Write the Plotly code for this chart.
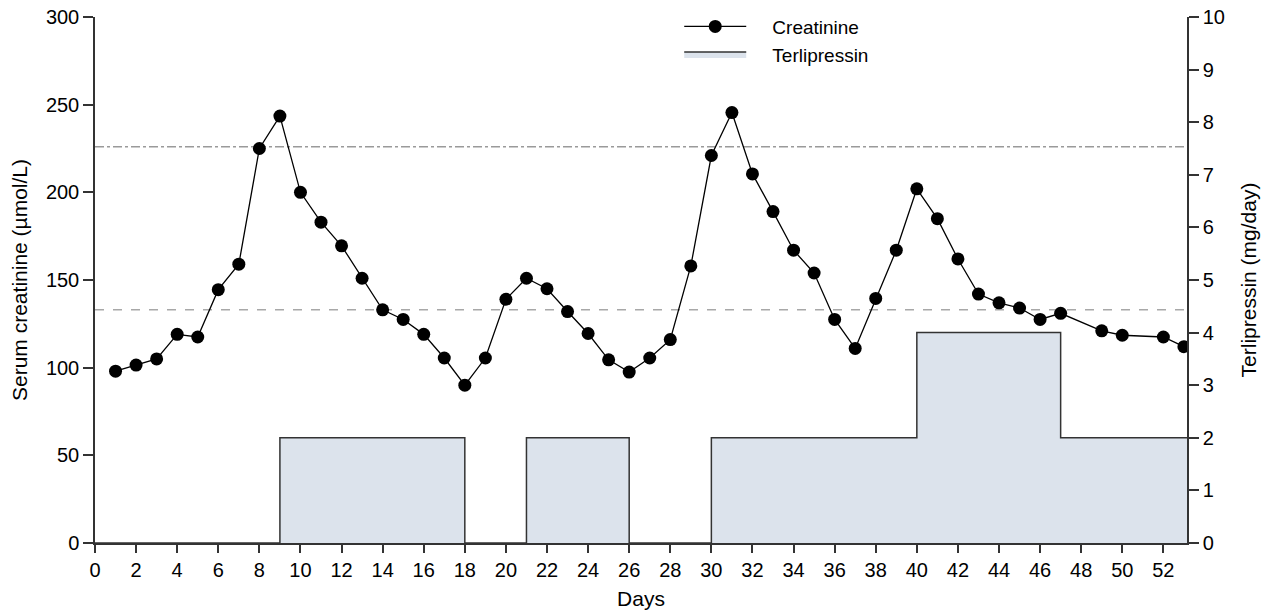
import plotly.graph_objects as go

# Serum creatinine by day (µmol/L); days 48 and 51 have no measurement
days = [1, 2, 3, 4, 5, 6, 7, 8, 9, 10, 11, 12, 13, 14, 15, 16, 17, 18,
        19, 20, 21, 22, 23, 24, 25, 26, 27, 28, 29, 30, 31, 32, 33, 34, 35, 36,
        37, 38, 39, 40, 41, 42, 43, 44, 45, 46, 47, 49, 50, 52, 53]
creatinine = [98, 101.5, 105, 119, 117.5, 144.5, 159, 225, 243.5, 200, 183, 169.5, 151, 133, 127.5, 119, 105.5, 90,
              105.5, 139, 151, 145, 132, 119.5, 104.5, 97.5, 105.5, 116, 158, 221, 245.5, 210.5, 189, 167, 154, 127.5,
              111, 139.5, 167, 202, 185, 162, 142, 137, 134, 127.5, 131, 121, 118.5, 117.5, 112]

# Terlipressin dose steps (mg/day): value holds from each day until the next
dose_days = [0, 9, 18, 21, 26, 30, 40, 47, 53.15]
dose_mg = [0, 2, 0, 2, 0, 2, 4, 2, 2]

# Reference thresholds (µmol/L)
threshold_upper = 226
threshold_lower = 133

x_ticks = list(range(0, 53, 2))

FONT = "Liberation Sans, Arial, Helvetica, sans-serif"
AXIS_COLOR = "#333333"
PAD = "\u00a0\u00a0\u00a0\u00a0"  # gap between legend symbol and its label

fig = go.Figure()

fig.add_trace(go.Scatter(
    x=dose_days, y=dose_mg, yaxis="y2", name=PAD + "Terlipressin",
    mode="lines", line=dict(shape="hv", color=AXIS_COLOR, width=1.5),
    fill="tozeroy", fillcolor="#dce3ec", legendrank=2,
))

fig.add_trace(go.Scatter(
    x=days, y=creatinine, name=PAD + "Creatinine",
    mode="lines+markers",
    line=dict(color="black", width=1.3),
    marker=dict(color="black", size=13),
    legendrank=1,
))

fig.add_shape(type="line", xref="paper", x0=0, x1=1, y0=threshold_upper, y1=threshold_upper,
              line=dict(color="#9a9a9a", width=1.5, dash="dashdot"), layer="below")
fig.add_shape(type="line", xref="paper", x0=0, x1=1, y0=threshold_lower, y1=threshold_lower,
              line=dict(color="#a8a8a8", width=1.5, dash="dash"), layer="below")

axis_common = dict(
    showline=True, linecolor=AXIS_COLOR, linewidth=1.5,
    ticks="outside", tickcolor=AXIS_COLOR, tickwidth=1.5,
    showgrid=False, zeroline=False, automargin=False,
    tickfont=dict(family=FONT, size=20, color="black"),
)

fig.update_layout(
    width=1272, height=615,
    margin=dict(l=95, r=85, t=17, b=72, autoexpand=False),
    paper_bgcolor="white", plot_bgcolor="white",
    font=dict(family=FONT, size=20, color="black"),
    showlegend=True,
    legend=dict(
        x=0.535, y=1.018, xanchor="left", yanchor="top",
        bgcolor="rgba(0,0,0,0)", itemwidth=62,
        font=dict(family=FONT, size=19, color="black"),
        tracegroupgap=0,
    ),
    xaxis=dict(
        range=[0, 53.15], tickvals=x_ticks, ticklen=8,
        title=dict(text="Days", font=dict(family=FONT, size=21), standoff=12),
        **axis_common,
    ),
    yaxis=dict(
        range=[0, 300], dtick=50, ticklen=10,
        title=dict(text="Serum creatinine (µmol/L)", font=dict(family=FONT, size=21), standoff=13),
        **axis_common,
    ),
    yaxis2=dict(
        range=[0, 10], dtick=1, ticklen=10, overlaying="y", side="right",
        title=dict(text="Terlipressin (mg/day)", font=dict(family=FONT, size=21), standoff=17),
        **axis_common,
    ),
)

fig.write_html("out.html")
